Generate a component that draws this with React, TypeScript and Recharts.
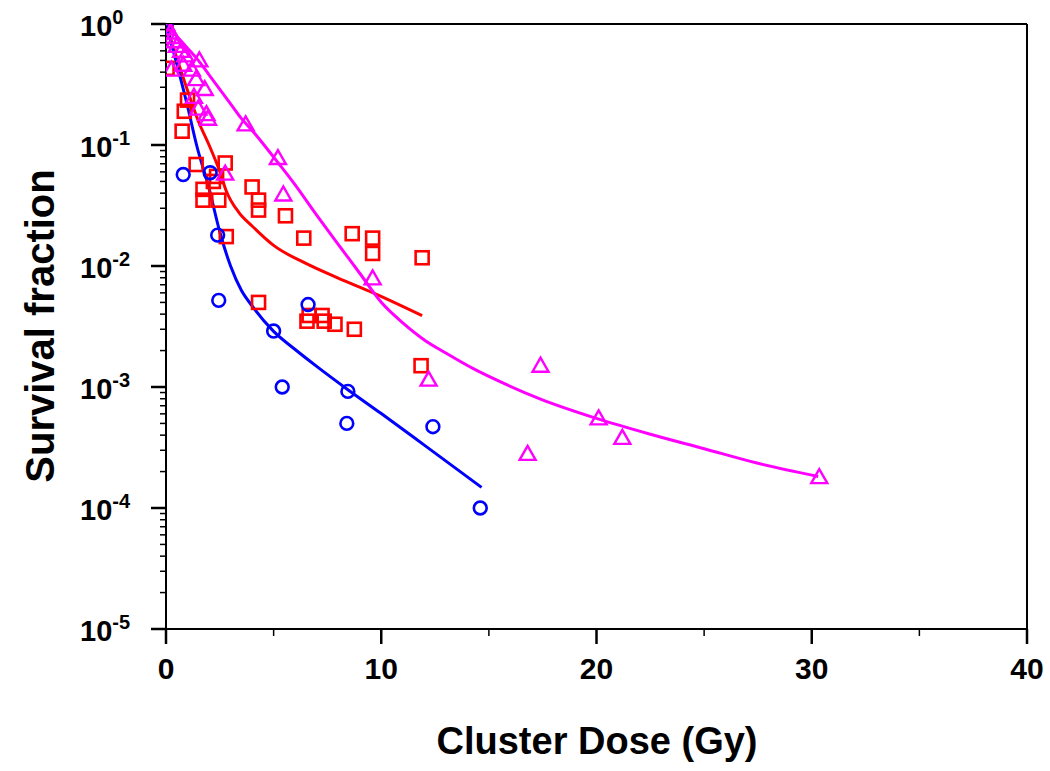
import React from 'react';
import { ComposedChart, XAxis, YAxis, Scatter, Line, ReferenceLine, Label } from 'recharts';

// ---- data (dose in Gy, survival fraction) ----
const circlePoints = [
  { x: 0.0, y: 1.0 }, { x: 0.8, y: 0.057 }, { x: 2.05, y: 0.059 }, { x: 2.4, y: 0.018 },
  { x: 2.45, y: 0.0052 }, { x: 6.6, y: 0.0048 }, { x: 5.0, y: 0.0029 }, { x: 5.4, y: 0.001 },
  { x: 8.45, y: 0.00092 }, { x: 8.4, y: 0.0005 }, { x: 12.4, y: 0.00047 }, { x: 14.6, y: 0.0001 },
];
const squarePoints = [
  { x: 0.0, y: 1.0 }, { x: 0.05, y: 0.43 }, { x: 0.75, y: 0.13 }, { x: 0.85, y: 0.19 },
  { x: 1.0, y: 0.235 }, { x: 1.4, y: 0.069 }, { x: 1.72, y: 0.043 }, { x: 1.72, y: 0.035 },
  { x: 2.2, y: 0.05 }, { x: 2.35, y: 0.055 }, { x: 2.45, y: 0.035 }, { x: 2.75, y: 0.071 },
  { x: 2.8, y: 0.0175 }, { x: 4.0, y: 0.045 }, { x: 4.3, y: 0.035 }, { x: 4.3, y: 0.029 },
  { x: 4.3, y: 0.005 }, { x: 5.55, y: 0.026 }, { x: 6.4, y: 0.017 }, { x: 6.55, y: 0.0035 },
  { x: 6.65, y: 0.0039 }, { x: 7.25, y: 0.0039 }, { x: 7.35, y: 0.0035 }, { x: 7.85, y: 0.0033 },
  { x: 8.75, y: 0.003 }, { x: 8.65, y: 0.0185 }, { x: 9.6, y: 0.017 }, { x: 9.6, y: 0.0127 },
  { x: 11.9, y: 0.0117 }, { x: 11.85, y: 0.0015 },
];
const trianglePoints = [
  { x: 0.0, y: 1.0 }, { x: 0.1, y: 0.92 }, { x: 0.2, y: 0.85 }, { x: 0.3, y: 0.78 },
  { x: 0.4, y: 0.72 }, { x: 0.5, y: 0.66 }, { x: 0.7, y: 0.6 }, { x: 0.9, y: 0.55 },
  { x: 0.25, y: 0.42 }, { x: 0.8, y: 0.46 }, { x: 1.2, y: 0.42 }, { x: 1.55, y: 0.5 },
  { x: 1.4, y: 0.35 }, { x: 1.8, y: 0.29 }, { x: 1.3, y: 0.25 }, { x: 1.5, y: 0.2 },
  { x: 1.95, y: 0.165 }, { x: 1.88, y: 0.18 }, { x: 3.7, y: 0.148 }, { x: 5.2, y: 0.078 },
  { x: 2.75, y: 0.058 }, { x: 5.45, y: 0.039 }, { x: 9.6, y: 0.0079 }, { x: 12.2, y: 0.00115 },
  { x: 17.4, y: 0.0015 }, { x: 16.8, y: 0.00028 }, { x: 20.1, y: 0.00055 }, { x: 21.2, y: 0.00038 },
  { x: 30.35, y: 0.00018 },
];
const blueFit = [
  { x: 0, y: 1 }, { x: 0.5, y: 0.468 }, { x: 1.0, y: 0.209 }, { x: 1.42, y: 0.1 },
  { x: 2.0, y: 0.0437 }, { x: 2.5, y: 0.0191 }, { x: 3.0, y: 0.01 }, { x: 3.5, y: 0.0063 },
  { x: 4.0, y: 0.00468 }, { x: 5.0, y: 0.00288 }, { x: 6.0, y: 0.00204 }, { x: 7.0, y: 0.00148 },
  { x: 8.45, y: 0.00095 }, { x: 10, y: 0.000603 }, { x: 12, y: 0.000331 }, { x: 14.66, y: 0.000148 },
];
const redFit = [
  { x: 0, y: 1 }, { x: 0.5, y: 0.525 }, { x: 1.0, y: 0.282 }, { x: 1.5, y: 0.158 },
  { x: 2.0, y: 0.1 }, { x: 2.5, y: 0.0603 }, { x: 2.8, y: 0.0417 }, { x: 3.4, y: 0.0275 },
  { x: 4.0, y: 0.0214 }, { x: 5.0, y: 0.0148 }, { x: 6.5, y: 0.0105 }, { x: 8.0, y: 0.00794 },
  { x: 9.6, y: 0.00603 }, { x: 11.9, y: 0.00389 },
];
const magentaFit = [
  { x: 0, y: 1 }, { x: 0.5, y: 0.794 }, { x: 1.0, y: 0.631 }, { x: 1.5, y: 0.501 },
  { x: 2.0, y: 0.38 }, { x: 2.5, y: 0.288 }, { x: 3.0, y: 0.219 }, { x: 3.5, y: 0.166 },
  { x: 4.0, y: 0.132 }, { x: 5.0, y: 0.0794 }, { x: 6.0, y: 0.0468 }, { x: 7.0, y: 0.0263 },
  { x: 8.0, y: 0.0151 }, { x: 9.0, y: 0.00871 }, { x: 10.0, y: 0.00501 }, { x: 11.0, y: 0.00339 },
  { x: 12.0, y: 0.00245 }, { x: 13.0, y: 0.00191 }, { x: 14.3, y: 0.00141 }, { x: 15.8, y: 0.00105 },
  { x: 17.4, y: 0.000794 }, { x: 20.0, y: 0.00055 }, { x: 22.5, y: 0.000407 }, { x: 25.0, y: 0.000309 },
  { x: 27.5, y: 0.000234 }, { x: 30.3, y: 0.000182 },
];

const xTicks = [0, 5, 10, 15, 20, 25, 30, 35, 40];
const xMajorLabels = [0, 10, 20, 30, 40];
const yMajor = [1e-5, 1e-4, 1e-3, 1e-2, 1e-1, 1];
const yExponents = ['-5', '-4', '-3', '-2', '-1', '0'];
const yMinorMultipliers = [2, 3, 4, 5, 6, 7, 8, 9];

const yTicks: number[] = [];
yMajor.forEach((m, i) => {
  yTicks.push(m);
  if (i < yMajor.length - 1) yMinorMultipliers.forEach((k) => yTicks.push(k * m));
});

const FONT = 'Arial, "Liberation Sans", sans-serif';
const RED = '#ff0000';
const BLUE = '#0000ff';
const MAGENTA = '#ff00ff';

const YTick = (props: any) => {
  const { x, y, payload } = props;
  const v = payload.value;
  const idx = yMajor.findIndex((m) => Math.abs(m - v) / m < 1e-6);
  const major = idx >= 0;
  return (
    <g>
      <line x1={x - (major ? 15 : 6)} x2={x} y1={y} y2={y} stroke="#000" strokeWidth={major ? 2.5 : 1.5} />
      {major && (
        <text x={80} y={y + 12} fontFamily={FONT} fontWeight="bold" fontSize={29} fill="#000">
          10
          <tspan dy={-12} fontSize={20}>{yExponents[idx]}</tspan>
        </text>
      )}
    </g>
  );
};

const XTick = (props: any) => {
  const { x, y, payload } = props;
  const v = payload.value;
  const major = xMajorLabels.includes(v);
  return (
    <g>
      <line x1={x} x2={x} y1={y} y2={y + (major ? 15 : 7)} stroke="#000" strokeWidth={major ? 2.5 : 1.5} />
      {major && (
        <text x={x} y={y + 50} textAnchor="middle" fontFamily={FONT} fontWeight="bold" fontSize={30} fill="#000">
          {v}
        </text>
      )}
    </g>
  );
};

const SquareShape = (p: any) => (
  <rect x={p.cx - 6.5} y={p.cy - 6.5} width={13} height={13} fill="none" stroke={RED} strokeWidth={2.6} />
);
const CircleShape = (p: any) => (
  <circle cx={p.cx} cy={p.cy} r={6.4} fill="none" stroke={BLUE} strokeWidth={2.6} />
);
const TriangleShape = (p: any) => (
  <polygon
    points={`${p.cx},${p.cy - 8} ${p.cx - 8},${p.cy + 6} ${p.cx + 8},${p.cy + 6}`}
    fill="none"
    stroke={MAGENTA}
    strokeWidth={2.4}
    strokeLinejoin="miter"
  />
);

export default function App() {
  return (
    <div style={{ position: 'absolute', left: 0, top: 0, width: 1050, height: 771, background: '#fff' }}>
      <ComposedChart width={1050} height={771} margin={{ top: 24, right: 23, bottom: 0, left: 0 }}>
        <XAxis
          dataKey="x"
          type="number"
          domain={[0, 40]}
          ticks={xTicks}
          interval={0}
          tickSize={0}
          tickMargin={0}
          tickLine={false}
          tick={XTick}
          axisLine={{ stroke: '#000', strokeWidth: 2 }}
          height={142}
          allowDataOverflow
        >
          <Label
            content={() => (
              <text x={597} y={754} textAnchor="middle" fontFamily={FONT} fontWeight="bold" fontSize={38} fill="#000">
                Cluster Dose (Gy)
              </text>
            )}
          />
        </XAxis>
        <YAxis
          dataKey="y"
          type="number"
          scale="log"
          domain={[1e-5, 1]}
          ticks={yTicks}
          interval={0}
          tickSize={0}
          tickMargin={0}
          tickLine={false}
          tick={YTick}
          axisLine={{ stroke: '#000', strokeWidth: 2 }}
          width={166}
          allowDataOverflow
        >
          <Label
            content={() => (
              <text
                x={40}
                y={326}
                transform="rotate(-90, 40, 326)"
                textAnchor="middle"
                dominantBaseline="central"
                fontFamily={FONT}
                fontWeight="bold"
                fontSize={40}
                fill="#000"
              >
                Survival fraction
              </text>
            )}
          />
        </YAxis>
        <ReferenceLine y={1} stroke="#000" strokeWidth={2} />
        <ReferenceLine x={40} stroke="#000" strokeWidth={2} />
        <Scatter data={squarePoints} shape={SquareShape} isAnimationActive={false} />
        <Scatter data={circlePoints} shape={CircleShape} isAnimationActive={false} />
        <Scatter data={trianglePoints} shape={TriangleShape} isAnimationActive={false} />
        <Line data={redFit} dataKey="y" type="monotone" stroke={RED} strokeWidth={3} dot={false} isAnimationActive={false} />
        <Line data={magentaFit} dataKey="y" type="monotone" stroke={MAGENTA} strokeWidth={3} dot={false} isAnimationActive={false} />
        <Line data={blueFit} dataKey="y" type="monotone" stroke={BLUE} strokeWidth={3} dot={false} isAnimationActive={false} />
      </ComposedChart>
    </div>
  );
}
